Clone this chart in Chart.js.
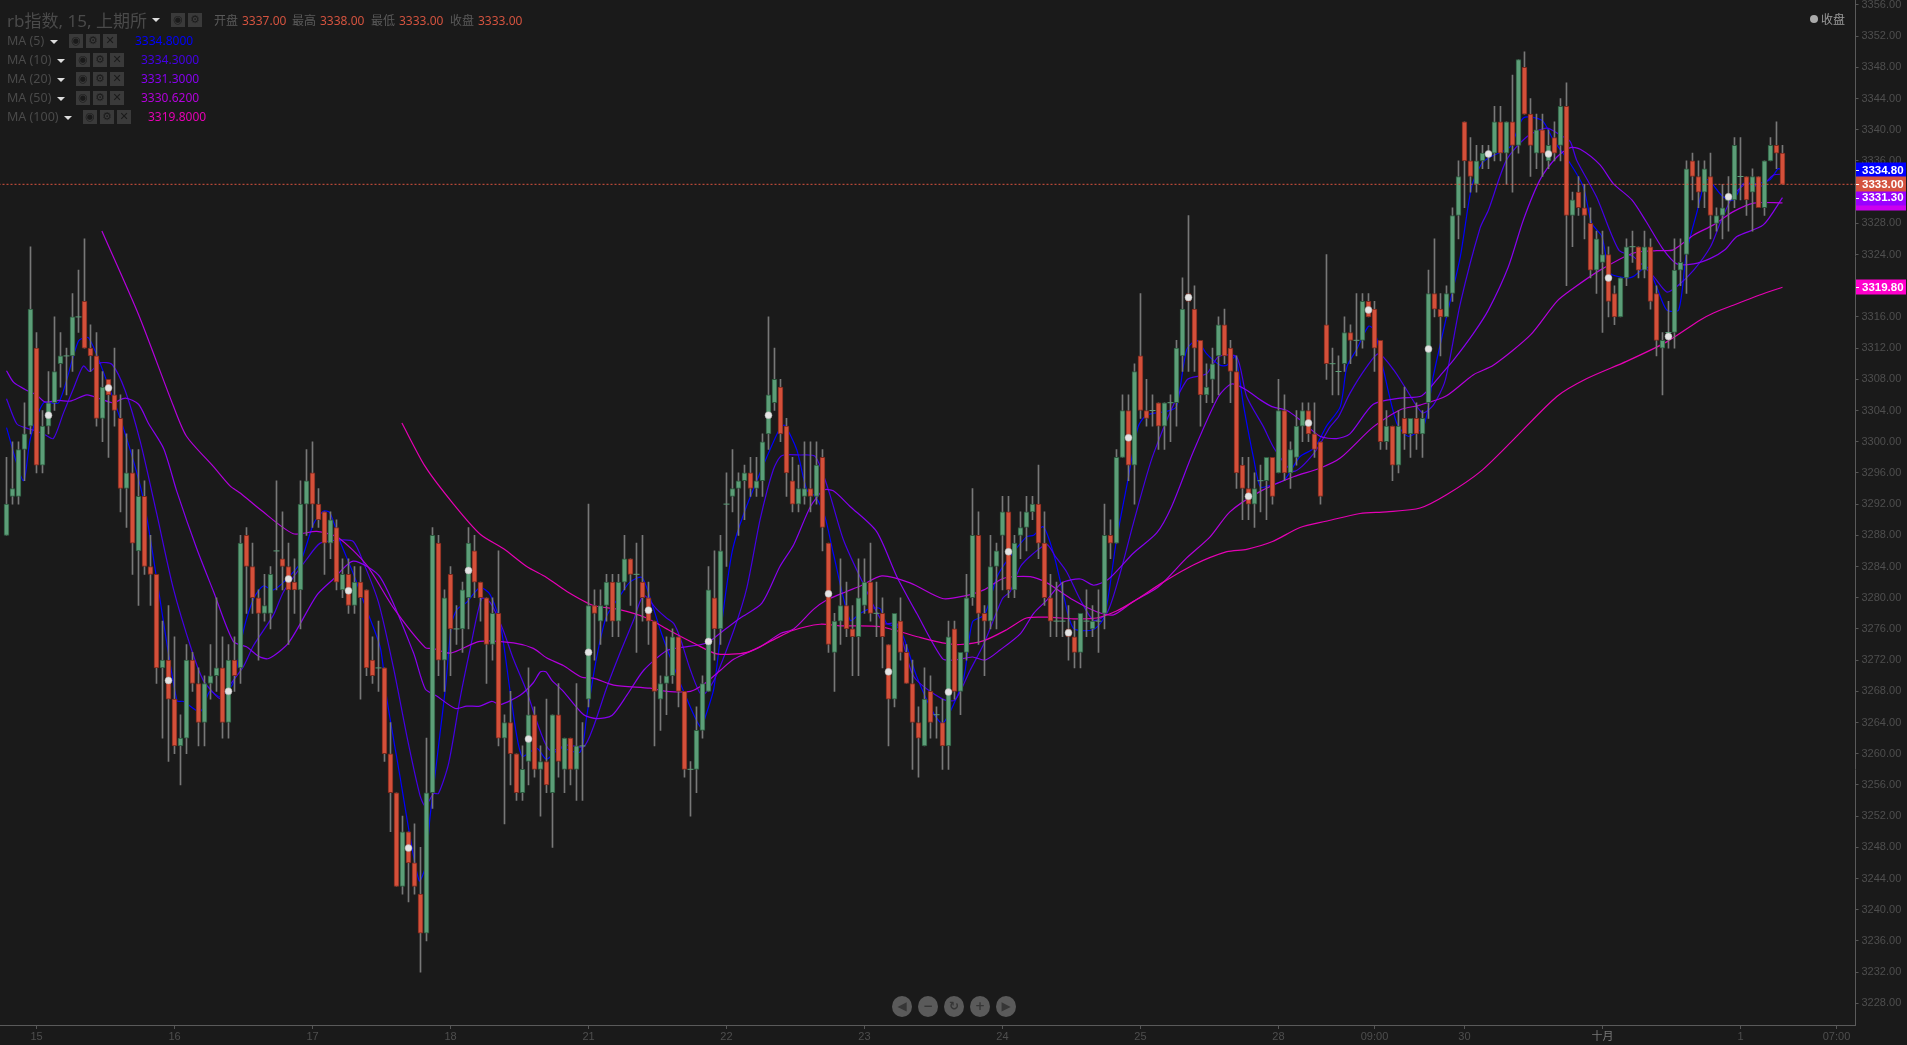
<!DOCTYPE html>
<html>
<head>
<meta charset="utf-8">
<title>rb指数</title>
<script src="https://cdn.jsdelivr.net/npm/chart.js@4"></script>
<style>
html, body { margin: 0; padding: 0; background: #1a1a1a; overflow: hidden; }
#wrap { position: relative; width: 1907px; height: 1045px; font-family: "Noto Sans", "Noto Sans CJK SC", sans-serif; }
#chart { position: absolute; left: 0; top: 0; }
.t { position: absolute; white-space: nowrap; line-height: 1; }
.ico { position: absolute; width: 14px; height: 14px; background: #3a3a3a; color: #1a1a1a; font: 11px/14px "DejaVu Sans", sans-serif; text-align: center; }
.tri { position: absolute; width: 0; height: 0; border-left: 4px solid transparent; border-right: 4px solid transparent; border-top: 4px solid #ddd; }
.nav { position: absolute; width: 20px; height: 21px; border-radius: 50%; background: #5a5a5a; color: #363636; font: bold 12px/21px "DejaVu Sans", sans-serif; text-align: center; }
</style>
</head>
<body>
<div id="wrap">
  <canvas id="chart" width="1907" height="1045"></canvas>
</div>
<script>
const opens = [
3288,3293,3293,3299,3302,3312,3297,3302,3305,3310,
3311,3311,3316,3318,3312,3311,3303,3308,3306,3303,
3294,3296,3286,3293,3284,3283,3271,3272,3267,3261,
3262,3272,3269,3264,3269,3270,3271,3264,3272,3271,
3288,3284,3280,3278,3278,3286,3285,3284,3282,3281,
3292,3296,3292,3291,3287,3289,3281,3283,3279,3282,
3281,3272,3271,3271,3260,3255,3243,3250,3246,3242,
3237,3255,3287,3272,3283,3276,3276,3280,3286,3282,
3280,3274,3278,3262,3264,3260,3255,3259,3265,3258,
3259,3255,3265,3258,3262,3258,3261,3267,3279,3277,
3279,3282,3277,3282,3285,3283,3282,3280,3277,3267,
3269,3270,3275,3268,3258,3258,3263,3268,3280,3276,
3292,3293,3294,3295,3296,3294,3295,3301,3305,3307,
3302,3295,3292,3293,3294,3293,3298,3287,3273,3277,
3279,3276,3275,3279,3282,3278,3278,3274,3267,3277,
3273,3269,3264,3261,3268,3265,3264,3261,3276,3268,
3273,3280,3288,3278,3277,3284,3288,3291,3281,3288,
3289,3291,3292,3287,3280,3277,3277,3276,3275,3273,
3277,3276,3277,3278,3288,3287,3298,3304,3297,3311,
3304,3304,3305,3302,3305,3305,3311,3319,3317,3313,
3306,3308,3311,3315,3312,3309,3297,3294,3292,3295,
3295,3298,3296,3304,3296,3298,3302,3304,3301,3300,
3315,3310,3309,3310,3314,3313,3313,3318,3317,3313,
3300,3302,3297,3303,3301,3303,3301,3305,3319,3317,
3316,3319,3329,3341,3336,3333,3336,3337,3337,3341,
3337,3341,3338,3348,3342,3337,3340,3336,3339,3338,
3343,3329,3332,3330,3328,3322,3323,3324,3319,3316,
3321,3325,3325,3322,3325,3319,3312,3314,3314,3322,
3324,3336,3334,3332,3334,3328,3329,3331,3331,3334,
3334,3332,3334,3330,3336,3338,3337];
const highs = [
3298,3300,3300,3305,3325,3314,3304,3309,3316,3314,
3312,3319,3322,3326,3315,3314,3309,3308,3312,3306,
3301,3299,3299,3295,3288,3283,3277,3279,3275,3265,
3274,3273,3271,3270,3274,3280,3275,3274,3275,3288,
3289,3287,3281,3283,3284,3295,3291,3287,3285,3295,
3299,3300,3294,3291,3291,3290,3285,3285,3284,3284,
3281,3275,3277,3271,3264,3255,3252,3250,3251,3248,
3262,3289,3288,3281,3284,3279,3282,3289,3288,3282,
3280,3280,3286,3265,3268,3260,3261,3271,3266,3261,
3267,3265,3269,3262,3262,3269,3264,3292,3281,3281,
3283,3283,3283,3288,3285,3287,3288,3282,3277,3270,
3275,3276,3275,3268,3259,3266,3270,3284,3286,3288,
3296,3299,3296,3297,3298,3298,3301,3316,3312,3308,
3303,3298,3297,3300,3300,3300,3299,3287,3278,3285,
3282,3279,3285,3285,3287,3282,3280,3274,3278,3280,
3274,3272,3266,3271,3270,3266,3267,3277,3277,3273,
3283,3294,3291,3279,3288,3287,3293,3293,3288,3291,
3293,3293,3297,3291,3283,3282,3282,3279,3277,3278,
3281,3279,3281,3292,3290,3299,3306,3306,3310,3319,
3308,3306,3305,3305,3306,3313,3321,3329,3320,3313,
3310,3312,3316,3317,3313,3311,3298,3298,3296,3297,
3298,3298,3308,3306,3300,3304,3305,3305,3305,3300,
3324,3312,3311,3316,3315,3319,3319,3319,3318,3313,
3304,3302,3304,3307,3303,3305,3304,3322,3326,3319,
3320,3330,3336,3341,3339,3338,3338,3338,3343,3343,
3341,3347,3349,3350,3344,3342,3342,3340,3341,3344,
3346,3332,3334,3333,3330,3327,3327,3325,3320,3321,
3326,3327,3325,3327,3326,3320,3314,3318,3326,3326,
3336,3337,3336,3336,3337,3330,3333,3334,3339,3339,
3334,3335,3334,3336,3339,3341,3338];
const lows = [
3288,3292,3292,3295,3301,3296,3296,3301,3304,3307,
3306,3309,3314,3312,3309,3302,3300,3298,3302,3291,
3289,3283,3279,3283,3279,3269,3262,3259,3260,3256,
3260,3268,3261,3261,3267,3268,3262,3262,3268,3269,
3278,3278,3272,3277,3276,3281,3281,3274,3278,3276,
3288,3289,3289,3283,3285,3281,3280,3278,3278,3267,
3270,3269,3268,3259,3250,3243,3242,3241,3242,3232,
3236,3253,3270,3268,3270,3274,3273,3276,3280,3277,
3269,3272,3261,3251,3256,3254,3254,3256,3257,3252,
3255,3248,3257,3255,3256,3254,3254,3266,3272,3274,
3277,3275,3275,3281,3279,3273,3277,3274,3261,3263,
3265,3269,3266,3257,3252,3255,3262,3268,3272,3274,
3284,3291,3288,3290,3293,3293,3293,3299,3304,3300,
3293,3291,3291,3292,3291,3292,3286,3273,3268,3274,
3275,3270,3270,3278,3277,3275,3271,3261,3266,3272,
3269,3258,3257,3261,3262,3262,3258,3258,3267,3265,
3272,3279,3274,3270,3276,3276,3281,3280,3280,3285,
3286,3290,3285,3279,3275,3275,3275,3272,3271,3271,
3275,3275,3273,3276,3285,3287,3298,3295,3292,3303,
3302,3302,3299,3299,3300,3302,3309,3309,3309,3302,
3305,3305,3306,3310,3305,3294,3290,3290,3289,3291,
3290,3292,3296,3295,3294,3297,3300,3300,3298,3292,
3308,3306,3306,3309,3310,3311,3312,3316,3309,3299,
3299,3295,3296,3299,3298,3299,3298,3303,3316,3311,
3316,3318,3326,3330,3332,3332,3335,3335,3336,3336,
3333,3332,3337,3342,3334,3335,3334,3335,3336,3336,
3320,3325,3329,3326,3321,3319,3314,3316,3315,3316,
3320,3323,3321,3321,3317,3311,3306,3312,3312,3320,
3319,3331,3330,3330,3326,3327,3326,3327,3330,3331,
3329,3327,3330,3329,3336,3335,3333];
const closes = [
3292,3294,3299,3301,3317,3297,3302,3305,3309,3311,
3311,3316,3316,3312,3311,3303,3307,3306,3304,3294,
3296,3287,3293,3284,3283,3271,3272,3267,3261,3262,
3272,3269,3264,3269,3270,3271,3264,3272,3270,3287,
3284,3280,3278,3279,3283,3286,3284,3281,3281,3292,
3295,3292,3290,3287,3290,3282,3283,3279,3282,3280,
3271,3270,3271,3260,3255,3243,3250,3246,3243,3237,
3255,3288,3272,3280,3276,3276,3281,3287,3282,3280,
3274,3278,3262,3264,3260,3255,3258,3265,3258,3259,
3256,3265,3259,3262,3258,3261,3261,3279,3278,3279,
3282,3277,3282,3285,3283,3283,3280,3277,3268,3269,
3270,3275,3268,3258,3258,3263,3269,3281,3276,3286,
3292,3294,3295,3296,3294,3295,3300,3306,3308,3301,
3296,3292,3294,3294,3293,3297,3289,3274,3277,3279,
3276,3275,3280,3282,3278,3278,3275,3267,3278,3273,
3269,3264,3262,3267,3264,3265,3261,3275,3268,3273,
3280,3288,3278,3277,3284,3286,3291,3281,3287,3289,
3291,3292,3287,3280,3277,3277,3277,3275,3273,3278,
3277,3277,3277,3288,3287,3298,3304,3297,3309,3304,
3303,3304,3302,3305,3305,3312,3317,3318,3312,3306,
3307,3310,3315,3311,3309,3296,3294,3292,3294,3295,
3298,3293,3304,3296,3299,3302,3304,3301,3299,3293,
3310,3310,3309,3314,3313,3313,3318,3316,3312,3300,
3302,3297,3302,3301,3303,3301,3303,3319,3317,3316,
3319,3329,3334,3336,3334,3336,3337,3337,3341,3337,
3341,3338,3349,3342,3338,3340,3337,3338,3337,3343,
3329,3331,3330,3329,3322,3326,3324,3318,3316,3321,
3325,3325,3322,3325,3318,3313,3313,3314,3322,3323,
3335,3334,3332,3335,3329,3329,3330,3331,3338,3334,
3331,3334,3330,3336,3338,3337,3333];

// moving averages as [bar, price]
const ma5 = [[0,3301.8],[2.8,3295],[4,3300.5],[6.2,3305],[8.7,3305],[12,3312.9],[13.7,3313.3],[16.7,3307.8],[20,3300.5],[22.8,3292.7],[25,3282.6],[28.4,3266.8],[29.5,3266.7],[32.3,3265.4],[33.9,3268],[35.6,3267.3],[37.8,3269.1],[39.5,3275.8],[41.2,3279.9],[42.8,3281.5],[44.5,3281],[46.7,3282.4],[48.9,3284.4],[51.2,3289.5],[52.8,3291.1],[53.9,3290.9],[55.6,3287.2],[57.8,3283.1],[60,3278.5],[62.3,3273.6],[63.4,3267],[65.6,3257],[67.3,3249.2],[68.8,3243.7],[69.8,3245.5],[70.6,3252],[73.1,3268],[74.2,3276.7],[75.1,3278.5],[76.7,3279.4],[78.9,3281.3],[80.6,3280.4],[82.3,3276.7],[84.2,3266.6],[85.9,3259.7],[88.4,3260.7],[90,3259.3],[92.3,3260.7],[95.6,3260.2],[96.7,3264.8],[98.4,3272.5],[100,3277.6],[102.3,3280.3],[103.9,3282],[105.9,3282.6],[107.3,3279.9],[109,3275.8],[111.2,3271.2],[113.4,3267],[115.7,3263.4],[116.5,3264.8],[117.9,3268.4],[119.5,3278.5],[121,3286.1],[122.9,3290.8],[126.7,3298],[128.9,3301.7],[129.7,3302.1],[131.7,3299],[133.4,3293.8],[134.8,3293],[136.4,3290.4],[137.8,3285.7],[140.6,3277.1],[142.3,3278],[144,3278.6],[145.6,3278.6],[146.7,3276.7],[148.9,3276],[151.7,3269.9],[154.5,3265.2],[156,3263.9],[157.9,3266.4],[159.6,3269.9],[161,3276.9],[163,3277.8],[165.1,3282.7],[166.8,3284.8],[170,3287.8],[171.2,3288],[172.8,3289.1],[174.5,3285.7],[176.1,3280.6],[177.8,3276.1],[181.1,3275.9],[183,3277.6],[185,3287.4],[187,3295.5],[188.6,3301.9],[190,3303.4],[193.4,3303.9],[195,3304.5],[196.7,3311.8],[198.4,3313],[200,3311.3],[202.3,3309.8],[203.4,3309.8],[204.8,3310.9],[206.2,3304.5],[207.9,3297.7],[209,3294.2],[210.9,3294.5],[213,3295.1],[215.6,3298.1],[218,3299.2],[220,3302],[222.3,3304.5],[223.4,3309.6],[225,3311.8],[227,3314.8],[228,3314.3],[229.5,3309.2],[231.7,3302.4],[233.6,3300.7],[236.2,3302],[237.8,3308.4],[240,3316],[242.3,3323.7],[244.2,3332.7],[245.9,3335.7],[247.3,3336.5],[250.6,3337.8],[252.8,3341.5],[255.9,3341.2],[257.8,3338.7],[260.6,3335.7],[262.8,3332.7],[264.2,3328],[265.9,3326.3],[267.3,3321.6],[270,3321],[271.2,3321.2],[273.4,3322.4],[275,3319.9],[276.7,3316.9],[278.7,3316.9],[280,3324.2],[281.7,3329.3],[283.4,3333.6],[286.1,3331.4],[287.8,3331],[289.5,3333.1],[291.7,3333.1],[293.9,3333.6],[295.3,3335],[296,3334.8]];
const ma10 = [[0,3305.5],[1.7,3302.3],[3.1,3301.8],[4.8,3301.4],[6.4,3300.9],[7.8,3300.4],[9.5,3303.7],[11.2,3306.9],[12.8,3309.7],[13.9,3309],[15.6,3310.1],[17.6,3309.9],[19.8,3306.5],[22.3,3300],[25,3290.9],[27.8,3281.2],[30.9,3273.2],[32.8,3269.4],[34.5,3267.8],[35.6,3267.1],[37.3,3268.9],[39.5,3271.2],[41.2,3273.9],[44.5,3277.8],[46.2,3280.8],[50,3284.9],[52.3,3287],[55.6,3287.4],[57.8,3287.2],[59.5,3284.5],[62,3279.4],[64.5,3271],[66.9,3261.6],[68.9,3254.7],[69.8,3253.3],[71.2,3254.9],[72,3254.9],[73.7,3258.8],[75.6,3267.1],[77.3,3273.5],[79.2,3279.9],[80.6,3279.4],[82.6,3276.2],[84.5,3272.1],[86.7,3268],[88.9,3263],[90.6,3260.4],[93.4,3261.1],[96.2,3260.9],[97.8,3263.4],[100,3268.4],[102.3,3273],[104.5,3277.1],[106.2,3280.3],[108.4,3278.5],[110,3277.4],[111.2,3276.7],[112.3,3274.8],[114,3270.7],[115.9,3267.5],[117.9,3269.4],[121.2,3275.8],[123.4,3281.3],[125.6,3290],[127.8,3296.4],[129.2,3298.2],[132.3,3298.3],[134.8,3298.1],[137,3293.8],[139.5,3287.4],[142.8,3281.8],[146.2,3276.7],[148.4,3276.7],[151.2,3269.9],[156,3267],[158.1,3266.9],[160.6,3270.7],[162.9,3274.1],[166,3279.9],[167.3,3280.8],[169,3284],[171.2,3285.7],[173.4,3286.8],[174.8,3285.3],[176.7,3283.3],[179,3279.7],[181.2,3277.1],[183.4,3278],[185.6,3283.1],[187.8,3289.5],[191.2,3298.5],[196.7,3307.9],[200,3308.7],[202,3310.9],[205,3310.9],[206.7,3305.8],[209.5,3301.9],[211.4,3299],[214.5,3296.2],[217.9,3298.5],[220.6,3301.9],[222,3303.2],[223.9,3306.2],[226.7,3309.6],[228.7,3311.3],[231.2,3309.2],[233.4,3306.6],[236,3303.7],[237.8,3304.7],[239.8,3307.9],[242.3,3317.7],[245.6,3327.4],[247,3329.7],[250,3336.1],[253.4,3339.1],[256.7,3340.2],[259,3339.3],[260.6,3338.5],[261.7,3336.1],[265,3331.4],[268.7,3324.6],[271.2,3323.7],[274.5,3321.2],[276.7,3319.2],[278.4,3319.9],[281.2,3322],[284,3325],[285.6,3328],[287.8,3331.6],[290.1,3333.1],[292.3,3332.7],[294.5,3334.2],[296,3334.3]];
const ma20 = [[0,3309.1],[1.2,3307.6],[3.1,3306.7],[5,3306],[6.4,3305.1],[8.7,3305.3],[10.6,3305.2],[13.4,3306],[15.6,3305.5],[17.8,3305],[19.8,3305.6],[22,3304.8],[23.7,3302.3],[26.2,3299.1],[28.4,3293.6],[31.7,3286.3],[34.5,3280.8],[37.8,3274.4],[40,3273.7],[42,3272.5],[43.7,3272.2],[47,3274.2],[51.7,3280.3],[54.5,3282.4],[57.8,3284.7],[62.3,3282.6],[67.8,3273],[69.8,3268.3],[71.7,3267.4],[74.8,3265.8],[76.7,3266.1],[78.9,3266.1],[80.9,3266.7],[82.3,3266.3],[85.6,3267.5],[87.8,3269.1],[89,3270.5],[89.9,3270.5],[90.9,3269.4],[92.8,3268],[96.2,3265],[98.4,3264.5],[100.9,3264.9],[103.4,3267.5],[106.2,3270.7],[110,3273.2],[112.3,3273.6],[116.7,3274.2],[119.5,3275.8],[122.3,3277.4],[125.9,3279.3],[128.9,3284],[131.2,3286.8],[134,3291.7],[136.2,3293.8],[137.8,3293.7],[140.6,3291.7],[145,3288.5],[148.4,3282.7],[151.7,3278],[156,3272.2],[157.9,3272],[161,3272.4],[163.1,3272],[165.6,3273.3],[169,3275.4],[171.2,3278],[173.4,3279.7],[175.9,3281.9],[179,3282.4],[181.2,3281.6],[183.7,3282.4],[187.8,3285.7],[191.7,3288.3],[194.2,3291.7],[197.8,3298.7],[202,3305.8],[204.2,3307.4],[206.7,3306.6],[208.9,3305.4],[210.9,3304.5],[213.4,3304],[215.6,3302.8],[218.9,3300.7],[221.7,3300.4],[223.9,3301],[227.8,3304.8],[232.3,3305.6],[235.9,3305.9],[239.3,3308.8],[241.2,3310.5],[244.5,3313.9],[247,3316.9],[250.3,3322.4],[252.8,3328.4],[255.6,3333.6],[258.4,3336.5],[260.6,3337.7],[262.3,3337.5],[265.6,3335.5],[267.8,3333.1],[270.9,3331],[273.3,3328.2],[276,3324.8],[278.4,3322.8],[281.2,3322.8],[284,3323.5],[286.4,3324.6],[288.4,3326.3],[292.8,3327.8],[296,3331.3]];
const ma50 = [[15.9,3327],[22,3316.3],[27.8,3304.6],[30,3300.7],[34.5,3296.8],[37.3,3294.3],[39,3293.4],[42.3,3291.3],[47.8,3288.2],[51.7,3288.5],[55.3,3287.7],[60,3284.2],[64.5,3278.7],[69.8,3273.6],[71.1,3273.5],[74,3272.9],[78.9,3274.4],[84.5,3274.2],[87.8,3273.5],[90,3272.3],[92.8,3271.3],[95.9,3269.8],[97.8,3269.7],[101.2,3268.8],[107.3,3268.4],[110,3268],[114,3268],[116.2,3268.9],[119,3270.7],[121.2,3272.1],[125.6,3273.7],[129,3275.4],[131.2,3276],[134.5,3278.5],[136.7,3279.7],[140,3280.8],[142.3,3281.5],[145.9,3282.8],[150.6,3281.9],[156,3279.9],[159.5,3280.2],[162.9,3281],[166.2,3282.5],[170.6,3282.7],[173.4,3281.9],[177.8,3279.7],[181.7,3278.2],[184.5,3277.8],[187.8,3279.5],[192,3281.4],[196.7,3285.1],[200.6,3287.8],[203.9,3291],[208.9,3293.6],[214.5,3295.5],[218.9,3296.6],[222.3,3297.9],[227.8,3301.9],[232.3,3304.1],[235.6,3304.7],[240,3305.9],[244.5,3308.6],[247.8,3309.8],[254,3313.7],[258.4,3318],[261.2,3319.7],[265.6,3322],[271.2,3324.2],[275,3324.5],[277.8,3324.6],[281.2,3326.5],[284.5,3327.8],[287.8,3329.5],[291.2,3330.6],[296,3330.62]];
const ma100 = [[65.9,3302.4],[69.8,3296.8],[74.5,3292],[79,3288.1],[82.8,3286.3],[86.7,3284],[90,3282.6],[93.4,3280.8],[97.8,3279],[102,3278.5],[106.7,3277.4],[110.5,3275.8],[115,3274],[118.4,3272.8],[123.4,3273],[127.8,3274.6],[131,3275.8],[135.6,3276.6],[139,3276.4],[145.6,3276.3],[151.8,3275],[156,3274.2],[159,3274],[162.9,3274.5],[166.7,3275.9],[170,3277.4],[173.4,3277.5],[177.8,3277.3],[181.7,3277.4],[185,3278.3],[187.8,3279.5],[192.8,3282],[197.8,3284.2],[203.4,3285.9],[206.7,3286.2],[211,3287.2],[215.6,3289],[219.9,3289.8],[225.6,3290.8],[230,3291],[235.6,3291.5],[240,3293.2],[245.7,3296.2],[251.2,3300.3],[258.4,3305.8],[263.4,3308.1],[270,3310.3],[276.7,3312.8],[282.3,3315.6],[284.5,3316.5],[287.8,3317.5],[292.9,3319],[296,3319.8]];

// the white dots on every tenth bar
const dotBars = [7,17,27,37,47,57,67,77,87,97,107,117,127,137,147,157,167,177,187,197,207,217,227,237,247,257,267,277,287];
const dotValues = [3303.4,3306.9,3269.4,3268,3282.4,3280.9,3247.9,3283.5,3261.9,3273,3278.4,3274.4,3303.4,3280.5,3270.5,3267.9,3285.9,3275.5,3300.5,3318.5,3293,3302.4,3316.9,3311.9,3336.9,3336.9,3321,3313.5,3331.4];

const xTickBars = [5,28,51,74,97,120,143,166,189,212,228,243,266,289,305];
const xTickLabels = ['15','16','17','18','21','22','23','24','25','28','09:00','30','十月','1','07:00'];
const yTicks = [3228,3232,3236,3240,3244,3248,3252,3256,3260,3264,3268,3272,3276,3280,3284,3288,3292,3296,3300,3304,3308,3312,3316,3320,3324,3328,3332,3336,3340,3344,3348,3352,3356];

const lastPrice = 3333;
const maNames = ['MA (5)', 'MA (10)', 'MA (20)', 'MA (50)', 'MA (100)'];
const maLast = [3334.80, 3334.30, 3331.30, 3330.62, 3319.80];
const maColors = ['#0000ff', '#4400e6', '#8800f0', '#b400dc', '#e600b4'];
const quote = [['开盘', '3337.00'], ['最高', '3338.00'], ['最低', '3333.00'], ['收盘', '3333.00']];

const UP = '#5c9e78', UP_EDGE = '#2c5a3e', DOWN = '#d4503a', DOWN_EDGE = '#7c2a1e';
const FONT = '"Liberation Sans", "Noto Sans CJK SC", sans-serif';

const bars = opens.map((o, i) => i);
const isDoji = i => opens[i] === closes[i];

function maSet(points, color, order) {
    return {
        type: 'line', order: order, data: points.map(p => ({x: p[0], y: p[1]})),
        borderColor: color, borderWidth: 1.2, pointRadius: 0, tension: 0.25
    };
}

// coloured boxes on the price axis, drawn on top of the tick labels
const priceTags = {
    id: 'priceTags',
    afterDraw(chart) {
        const c = chart.ctx, sy = chart.scales.y, left = chart.chartArea.right + 0.5;
        const tags = [
            [maLast[4], '#ff00cc', true],
            [maLast[3], '#cc00ee', false],
            [maLast[2], '#9900ff', true],
            [maLast[0], '#0000ff', true],
            [lastPrice, '#d4533f', true]
        ];
        c.save();
        tags.forEach(t => {
            const y = sy.getPixelForValue(t[0]);
            c.fillStyle = t[1];
            c.fillRect(left, Math.round(y) - 7.5, 50, 15);
            if (t[2]) {
                c.fillStyle = '#fff';
                c.fillRect(left, Math.round(y), 3, 1);
                c.font = 'bold 11.5px ' + FONT;
                c.textAlign = 'left';
                c.textBaseline = 'middle';
                c.fillText(t[0].toFixed(2), left + 6, y + 0.5);
            }
        });
        c.restore();
    }
};

// no label padding, so the plot runs right up to the canvas edges
function noPadding(s) {
    s.paddingLeft = s.paddingRight = s.paddingTop = s.paddingBottom = 0;
}

new Chart(document.getElementById('chart').getContext('2d'), {
    data: {
        datasets: [
            {
                type: 'line', order: 0, data: dotBars.map((b, i) => ({x: b, y: dotValues[i]})),
                showLine: false, pointRadius: 3.5, pointBackgroundColor: '#e4e4e4', pointBorderColor: '#aaa', pointBorderWidth: 0.5
            },
            {
                type: 'line', order: 1, data: [{x: -2, y: lastPrice}, {x: 310, y: lastPrice}],
                borderColor: '#d9533f', borderWidth: 1, borderDash: [2, 2], pointRadius: 0
            },
            {
                type: 'line', order: 2, data: bars.filter(isDoji).map(i => ({x: i, y: closes[i]})),
                showLine: false, pointStyle: 'line', pointRadius: 3, pointBorderColor: UP, pointBorderWidth: 1
            },
            {
                type: 'bar', order: 3, grouped: false, barThickness: 5, borderWidth: 1, borderSkipped: false,
                data: bars.map(i => ({x: i, y: [opens[i], closes[i]]})),
                backgroundColor: c => closes[c.dataIndex] >= opens[c.dataIndex] ? UP : DOWN,
                borderColor: c => closes[c.dataIndex] >= opens[c.dataIndex] ? UP_EDGE : DOWN_EDGE
            },
            {
                type: 'bar', order: 4, grouped: false, barThickness: 1, borderWidth: 0,
                data: bars.map(i => ({x: i, y: [lows[i], highs[i]]})),
                backgroundColor: '#787878'
            },
            maSet(ma100, maColors[4], 5),
            maSet(ma50, maColors[3], 6),
            maSet(ma20, maColors[2], 7),
            maSet(ma10, maColors[1], 8),
            maSet(ma5, maColors[0], 9)
        ]
    },
    options: {
        responsive: false,
        animation: false,
        devicePixelRatio: 1,
        layout: {padding: 0, autoPadding: false},
        plugins: {legend: {display: false}, tooltip: {enabled: false}},
        scales: {
            x: {
                type: 'linear', min: -1.0833, max: 308.17, offset: false,
                afterFit: s => { s.height = 20; noPadding(s); },
                afterBuildTicks: s => { s.ticks = xTickBars.map(b => ({value: b})); },
                grid: {drawOnChartArea: false, tickLength: 4, color: '#555', offset: false},
                border: {color: '#5a5a5a'},
                ticks: {
                    autoSkip: false, maxRotation: 0, padding: 1,
                    color: c => c.index === 12 ? '#777' : '#4e4e4e',
                    font: {family: FONT, size: 11},
                    callback: v => xTickLabels[xTickBars.indexOf(v)]
                }
            },
            y: {
                type: 'linear', position: 'right', min: 3225.22, max: 3356.63,
                afterFit: s => { s.width = 51.5; noPadding(s); },
                afterBuildTicks: s => { s.ticks = yTicks.map(v => ({value: v})); },
                grid: {drawOnChartArea: false, tickLength: 3, color: '#555'},
                border: {color: '#5a5a5a'},
                ticks: {
                    autoSkip: false, padding: 3, color: '#4e4e4e',
                    font: {family: FONT, size: 11},
                    callback: v => v.toFixed(2)
                }
            }
        }
    },
    plugins: [priceTags]
});

// title, quote and MA rows sit over the canvas as plain text
const wrap = document.getElementById('wrap');

function put(cls, css, text) {
    const el = document.createElement('div');
    el.className = cls;
    el.style.cssText = css;
    if (text) el.textContent = text;
    wrap.appendChild(el);
    return el;
}

function icons(left, top, glyphs) {
    glyphs.forEach((g, i) => put('ico', 'left:' + (left + i * 17) + 'px;top:' + top + 'px', g));
}

put('t', 'left:7px;top:12px;font-size:17px;color:#4a4a4a', 'rb指数, 15, 上期所');
put('tri', 'left:152px;top:18px');
icons(171, 13, ['◉', '⚙']);

const quoteX = [214, 292, 371, 450];
quote.forEach((q, i) => {
    put('t', 'left:' + quoteX[i] + 'px;top:15px;font-size:12px;color:#5a5a5a', q[0]);
    put('t', 'left:' + (quoteX[i] + 28) + 'px;top:15px;font-size:12px;color:#d4533f', q[1]);
});

const rowLeft = [69, 76, 76, 76, 83];
const valueLeft = [135, 141, 141, 141, 148];
maNames.forEach((name, i) => {
    const top = 34 + i * 19;
    put('t', 'left:7px;top:' + (top + 1) + 'px;font-size:12.5px;color:#4a4a4a', name);
    put('tri', 'left:' + (rowLeft[i] - 19) + 'px;top:' + (top + 6) + 'px');
    icons(rowLeft[i], top, ['◉', '⚙', '✕']);
    put('t', 'left:' + valueLeft[i] + 'px;top:' + (top + 1) + 'px;font-size:12px;color:' + maColors[i], maLast[i].toFixed(4));
});

put('t', 'left:1810px;top:15px;width:8px;height:8px;border-radius:50%;background:#aaa');
put('t', 'left:1821px;top:14px;font-size:12px;color:#9a9a9a', '收盘');

['◀', '−', '↻', '+', '▶'].forEach((g, i) => {
    put('nav', 'left:' + (892 + i * 26) + 'px;top:996px', g);
});
</script>
</body>
</html>
